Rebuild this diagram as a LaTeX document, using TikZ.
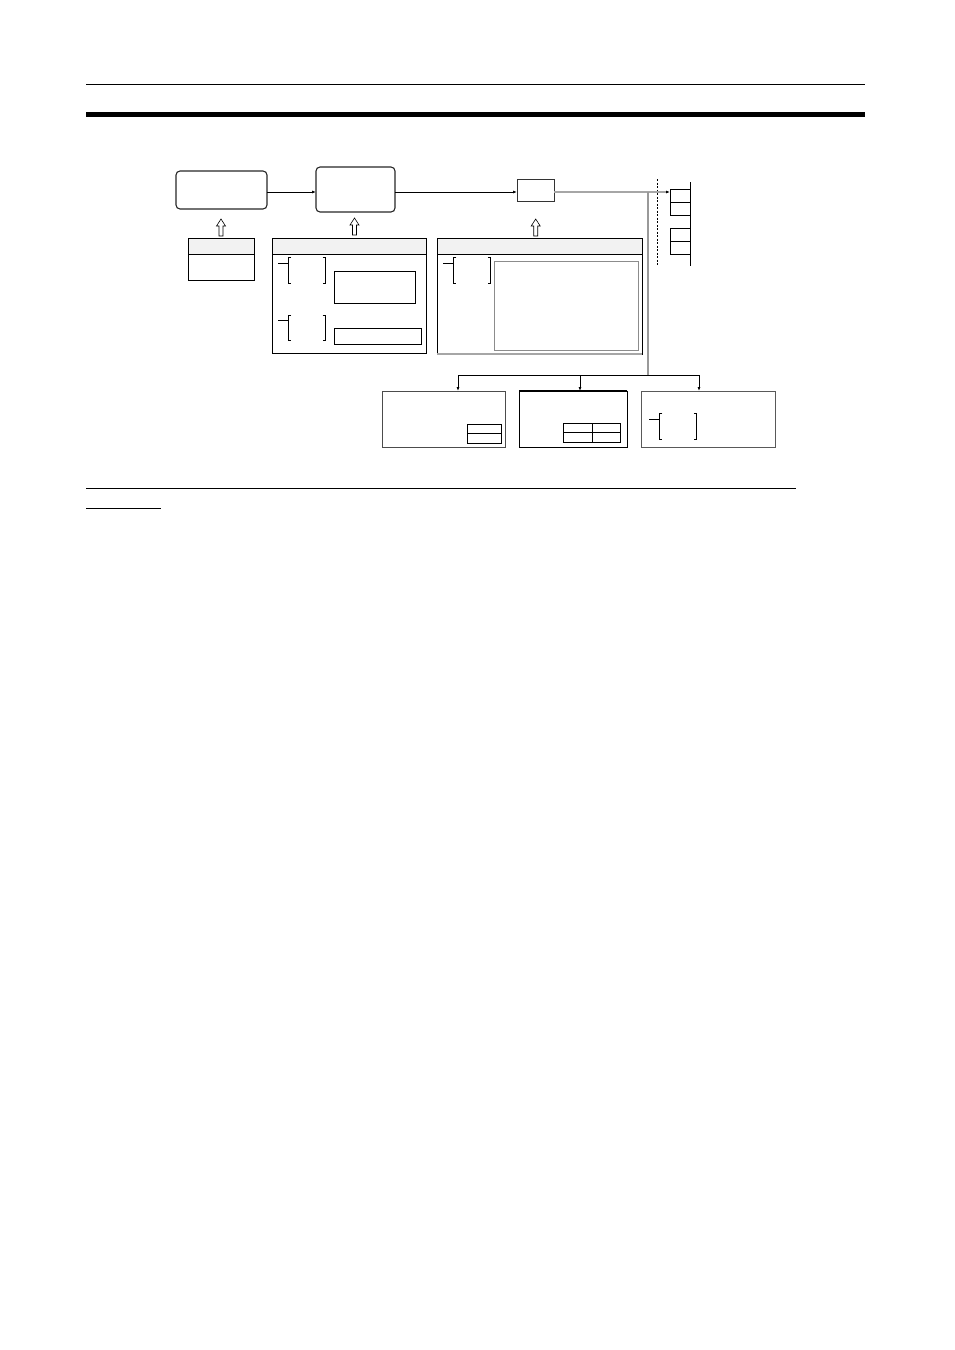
\documentclass[tikz,border=0pt]{standalone}
\usetikzlibrary{arrows.meta,fit}
\begin{document}
\begin{tikzpicture}[x=1pt,y=-1pt,
  box/.style={draw, line width=0.9pt, inner sep=0pt, outer sep=0pt},
  rbox/.style={box, rounded corners=4pt, draw=black!85, line width=1.1pt},
  arr/.style={-{Latex[length=4pt,width=3pt]}, line width=0.8pt},
  garr/.style={-{Latex[length=4pt,width=3pt]}, line width=1.4pt, draw=black!35},
  hdr/.style={fill=black!5},
  hollow/.style={draw, line width=0.6pt, fill=white},
  brkt/.pic={
    \draw[line width=0.8pt] (-10,5.6) -- (0,5.6);
    \draw[line width=0.8pt] (3,0) -- (0,0) -- (0,25.6) -- (3,25.6);
    \draw[line width=0.8pt] (34.5,0) -- (37.5,0) -- (37.5,25.6) -- (34.5,25.6);
  },
  uparr/.pic={
    \draw[hollow] (0,0) -- (-4.5,7) -- (-2,7) -- (-2,17) -- (2,17) -- (2,7) -- (4.5,7) -- cycle;
  }]
\useasboundingbox (0,0) rectangle (954,1350);

% page rules
\draw[line width=1pt] (86,84.3) -- (865,84.3);
\fill (86,112) rectangle (865,117);
\draw[line width=1pt] (86,488.3) -- (796,488.3);
\draw[line width=1pt] (86,508.3) -- (161,508.3);

% helper coordinates
\coordinate (hy) at (0,254);
\coordinate (ay) at (0,192);

% main flow boxes
\node[rbox, fit={(176,171) (267,209)}] (A) {};
\node[rbox, fit={(316,167) (395,212)}] (B) {};
\node[box, draw=black!80, fit={(517,179) (554,201)}] (E) {};

% panel C
\node[box, fit={(188,238) (254,280)}] (C) {};
\fill[hdr] ([shift={(0.5,0.5)}]C.north west) rectangle ([xshift=-0.5pt]C.east |- hy);
\draw[line width=0.9pt] (C.west |- hy) -- (C.east |- hy);

% panel D
\node[box, fit={(272,238) (426,353)}] (D) {};
\fill[hdr] ([shift={(0.5,0.5)}]D.north west) rectangle ([xshift=-0.5pt]D.east |- hy);
\draw[line width=0.9pt] (D.west |- hy) -- (D.east |- hy);
\pic at (288,257.7) {brkt};
\pic at (288,315) {brkt};
\node[box, fit={(334,271) (415,303)}] (D1) {};
\node[box, fit={(334,328) (421,344)}] (D2) {};

% panel F
\node[box, fit={(437,238) (642,354)}] (F) {};
\fill[hdr] ([shift={(0.5,0.5)}]F.north west) rectangle ([xshift=-0.5pt]F.east |- hy);
\draw[line width=0.9pt] (F.west |- hy) -- (F.east |- hy);
\draw[line width=1.2pt, black!35] (F.south west) -- (F.south east);
\pic at (453.3,257.7) {brkt};
\node[box, draw=black!45, line width=1pt, fit={(494,261) (638,350)}] (F1) {};

% hollow up arrows
\pic at (221,219) {uparr};
\pic at (354.5,218) {uparr};
\pic at (535.7,219) {uparr};

% connectors main flow
\draw[arr] (A.east |- ay) -- (B.west |- ay);
\draw[arr] (B.east |- ay) -- (E.west |- ay);

% right stack
\node[box, fit={(670,189) (690,215)}] (S1) {};
\draw[line width=0.9pt] (670,202.3) -- (690,202.3);
\node[box, fit={(670,228) (690,254)}] (S2) {};
\draw[line width=0.9pt] (670,241.7) -- (690,241.7);
\draw[line width=0.9pt] (690,182) -- (690,266);
\draw[dashed, line width=0.8pt, dash pattern=on 2pt off 1.5pt] (657.3,179) -- (657.3,266);

\coordinate (J) at (648,192);
\coordinate (K) at (648,375);
\draw[line width=1.4pt, black!35] (E.east |- ay) -- (J);
\draw[garr, arrows={-{Latex[length=4pt,width=3pt,color=black]}}] (J) -- (S1.west |- ay);
\draw[line width=1.4pt, black!40] (J) -- (K);

% lower boxes
\node[box, draw=black!70, line width=1pt, fit={(382,391) (505,447)}] (G) {};
\node[box, line width=1pt, fit={(519,391) (627,447)}] (H) {};
\draw[line width=1.8pt] (H.north west) -- (H.north east);
\node[box, draw=black!65, line width=1pt, fit={(641,391) (775,447)}] (I) {};

% G inner table
\node[box, fit={(467.3,424) (501.7,443.3)}] (G1) {};
\draw[line width=0.9pt] (G1.west) -- (G1.east);
% H inner table
\node[box, fit={(563.3,423.3) (620.7,442)}] (H1) {};
\draw[line width=0.9pt] (H1.west) -- (H1.east);
\draw[line width=0.9pt] (H1.north) -- (H1.south);
% I bracket
\pic at (659.3,413.3) {brkt};

% distribution
\coordinate (g1) at (458,375);
\coordinate (h1) at (580,375);
\coordinate (i1) at (699,375);
\draw[line width=0.9pt] (g1) -- (i1);
\draw[arr] (g1) -- (g1 |- G.north);
\draw[arr] (h1) -- (h1 |- H.north);
\draw[arr] (i1) -- (i1 |- I.north);
\end{tikzpicture}
\end{document}
